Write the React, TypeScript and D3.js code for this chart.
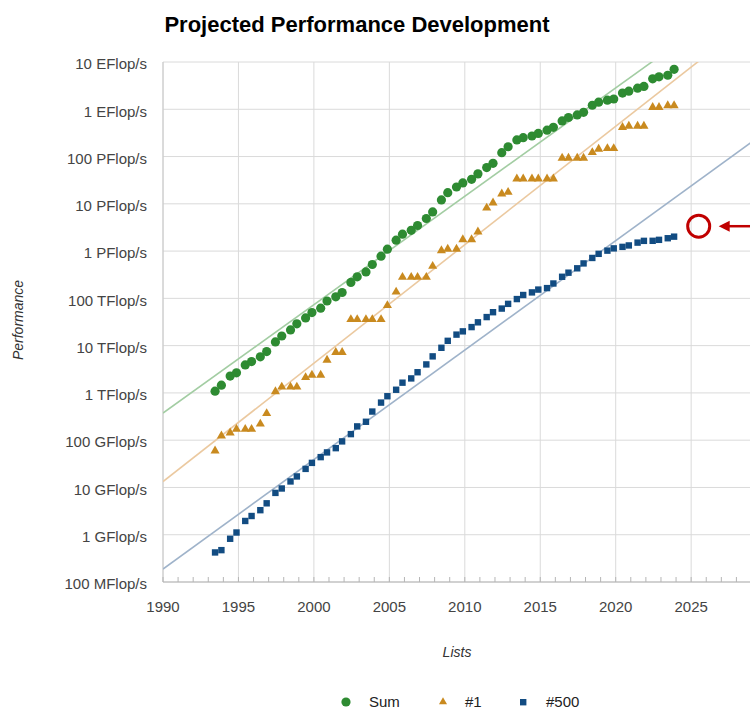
import React from 'react';
import * as d3 from 'd3';

// TOP500 lists, June and November of each year
const listLabels = [
  '06/1993', '11/1993', '06/1994', '11/1994', '06/1995', '11/1995', '06/1996', '11/1996',
  '06/1997', '11/1997', '06/1998', '11/1998', '06/1999', '11/1999', '06/2000', '11/2000',
  '06/2001', '11/2001', '06/2002', '11/2002', '06/2003', '11/2003', '06/2004', '11/2004',
  '06/2005', '11/2005', '06/2006', '11/2006', '06/2007', '11/2007', '06/2008', '11/2008',
  '06/2009', '11/2009', '06/2010', '11/2010', '06/2011', '11/2011', '06/2012', '11/2012',
  '06/2013', '11/2013', '06/2014', '11/2014', '06/2015', '11/2015', '06/2016', '11/2016',
  '06/2017', '11/2017', '06/2018', '11/2018', '06/2019', '11/2019', '06/2020', '11/2020',
  '06/2021', '11/2021', '06/2022', '11/2022', '06/2023', '11/2023',
];

// performance in GFlop/s
const sumValues = [
  1090, 1460, 2270, 2660, 3900, 4600, 5800, 7500,
  12000, 16000, 21500, 29000, 38500, 50000, 62000, 88000,
  108000, 133000, 217000, 285000, 363000, 521000, 780000, 1096000,
  1698000, 2275000, 2750000, 3475000, 4890000, 6750000, 12100000, 17200000,
  22700000, 27700000, 33000000, 43000000, 58500000, 72000000, 121000000, 161000000,
  225000000, 251000000, 272000000, 308000000, 361000000, 415000000, 567000000, 670000000,
  760000000, 860000000, 1216000000, 1415000000, 1560000000, 1650000000, 2200000000, 2420000000,
  2800000000, 3040000000, 4400000000, 4860000000, 5240000000, 7000000000,
];

const n1Values = [
  59.7, 124, 143.4, 170.4, 170.4, 170.4, 220.4, 368.2,
  1068, 1338, 1338, 1338, 2121, 2379, 2379, 4938,
  7226, 7226, 35860, 35860, 35860, 35860, 35860, 70720,
  136800, 280600, 280600, 280600, 280600, 478200, 1026000, 1105000,
  1105000, 1759000, 1759000, 2566000, 8162000, 10510000, 16320000, 17590000,
  33860000, 33860000, 33860000, 33860000, 33860000, 33860000, 93010000, 93010000,
  93010000, 93010000, 122300000, 143500000, 148600000, 148600000, 415500000, 442000000,
  442000000, 442000000, 1102000000, 1102000000, 1194000000, 1194000000,
];

const n500Values = [
  0.422, 0.472, 0.822, 1.114, 1.955, 2.489, 3.306, 4.62,
  7.67, 9.51, 13.4, 17.1, 24.7, 33.1, 43.8, 55.1,
  67.8, 94.3, 134.3, 195.8, 245.1, 403.4, 624, 850.6,
  1166, 1646, 2026, 2737, 4005, 5929, 9000, 12640,
  17100, 20050, 24670, 31120, 40190, 50940, 60820, 76500,
  96620, 117800, 133700, 153400, 164800, 206400, 286100, 349300,
  432200, 548700, 715600, 874800, 1022000, 1142000, 1228000, 1317000,
  1511000, 1646000, 1650000, 1730000, 1870000, 2020000,
];

// fitted trend lines: [year, GFlop/s] pairs
const sumTrend: [number, number][] = [[1990, 374], [2022.39, 1e10]];
const n1Trend: [number, number][] = [[1990, 13.3], [2025.43, 1e10]];
const n500Trend: [number, number][] = [[1990, 0.188], [2028.9, 1.91e8]];

// highlighted projection
const markYear = 2025.5;
const markValue = 3.36e6;

const yTickValues = [0.1, 1, 10, 100, 1e3, 1e4, 1e5, 1e6, 1e7, 1e8, 1e9, 1e10];
const yTickLabels = [
  '100 MFlop/s', '1 GFlop/s', '10 GFlop/s', '100 GFlop/s', '1 TFlop/s', '10 TFlop/s',
  '100 TFlop/s', '1 PFlop/s', '10 PFlop/s', '100 PFlop/s', '1 EFlop/s', '10 EFlop/s',
];
const xTickValues = [1990, 1995, 2000, 2005, 2010, 2015, 2020, 2025, 2030];

const colors = {
  sum: '#2e8b32',
  n1: '#c98a1f',
  n500: '#124c82',
  sumLine: '#a3cda3',
  n1Line: '#ebc9a0',
  n500Line: '#9fb3ca',
  grid: '#dadada',
  mark: '#c00000',
};

const FONT = '"Liberation Sans", Arial, Helvetica, sans-serif';

const listYear = (label: string) => {
  const [m, y] = label.split('/').map(Number);
  return y + (m === 6 ? 0.45 : 0.87);
};

export default function App() {
  const W = 750;
  const H = 711;
  const left = 163;
  const top = 62;
  const bottom = 582;

  const x = d3.scaleLinear().domain([1990, 2030]).range([left, left + 40 * 15.09]);
  const y = d3.scaleLog().domain([0.1, 1e10]).range([bottom, top]);

  const years = listLabels.map(listYear);

  // extend a two point log-linear trend over the full domain
  const trendPath = (t: [number, number][]) => {
    const [[x0, v0], [x1, v1]] = t;
    const k = (Math.log10(v1) - Math.log10(v0)) / (x1 - x0);
    const at = (yr: number): [number, number] => [yr, Math.pow(10, Math.log10(v0) + k * (yr - x0))];
    return d3.line<[number, number]>()
      .x(d => x(d[0]))
      .y(d => y(d[1]))([at(1990), at(2030)]);
  };

  const tri = d3.symbol().type(d3.symbolTriangle).size(36)();
  const triLegend = d3.symbol().type(d3.symbolTriangle).size(28)();
  const minorYears = d3.range(1990, 2030, 1);

  const mx = x(markYear);
  const my = y(markValue);

  return (
    <>
      <style>{'body{margin:0}'}</style>
      <svg width={W} height={H} style={{ display: 'block', background: '#fff' }} fontFamily={FONT}>
        <defs>
          <clipPath id="plot">
            <rect x={left} y={top} width={W - left} height={bottom - top} />
          </clipPath>
        </defs>

        <text x={357} y={32} textAnchor="middle" fontSize={22} fontWeight="bold" fill="#000">
          Projected Performance Development
        </text>

        {/* grid */}
        {yTickValues.map(v => (
          <line key={'gy' + v} x1={left} x2={W} y1={y(v)} y2={y(v)} stroke={colors.grid} strokeWidth={1} />
        ))}
        {xTickValues.map(v => (
          <line key={'gx' + v} x1={x(v)} x2={x(v)} y1={top} y2={bottom} stroke={colors.grid} strokeWidth={1} />
        ))}
        <line x1={left} x2={left} y1={top} y2={bottom} stroke="#c8c8c8" />
        <line x1={left} x2={W} y1={bottom} y2={bottom} stroke="#b5b5b5" />
        {minorYears.map(v => (
          <line key={'mt' + v} x1={x(v)} x2={x(v)} y1={bottom - 5} y2={bottom} stroke="#b5b5b5" />
        ))}

        {/* axis labels */}
        {yTickValues.map((v, i) => (
          <text key={'yl' + v} x={147} y={y(v) + 2} dy="0.35em" textAnchor="end" fontSize={15} fill="#444">
            {yTickLabels[i]}
          </text>
        ))}
        {xTickValues.slice(0, -1).map(v => (
          <text key={'xl' + v} x={x(v)} y={612} textAnchor="middle" fontSize={15} fill="#444">
            {v}
          </text>
        ))}
        <text transform="translate(23,320) rotate(-90)" textAnchor="middle" fontSize={14} fontStyle="italic" fill="#333">
          Performance
        </text>
        <text x={457} y={657} textAnchor="middle" fontSize={14} fontStyle="italic" fill="#333">
          Lists
        </text>

        {/* trend lines */}
        <g clipPath="url(#plot)" fill="none" strokeWidth={1.6}>
          <path d={trendPath(sumTrend) || ''} stroke={colors.sumLine} />
          <path d={trendPath(n1Trend) || ''} stroke={colors.n1Line} />
          <path d={trendPath(n500Trend) || ''} stroke={colors.n500Line} />
        </g>

        {/* data */}
        <g>
          {sumValues.map((v, i) => (
            <circle key={'s' + i} cx={x(years[i])} cy={y(v)} r={4.6} fill={colors.sum} />
          ))}
          {n1Values.map((v, i) => (
            <path key={'a' + i} d={tri || ''} transform={`translate(${x(years[i])},${y(v)})`} fill={colors.n1} />
          ))}
          {n500Values.map((v, i) => (
            <rect key={'b' + i} x={x(years[i]) - 3.2} y={y(v) - 3.2} width={6.4} height={6.4} fill={colors.n500} />
          ))}
        </g>

        {/* highlighted projection */}
        <circle cx={mx} cy={my} r={11} fill="none" stroke={colors.mark} strokeWidth={3} />
        <line x1={mx + 29} x2={W + 5} y1={my} y2={my} stroke={colors.mark} strokeWidth={2.5} />
        <path d={`M${mx + 20},${my} L${mx + 31},${my - 5.5} L${mx + 31},${my + 5.5} Z`} fill={colors.mark} />

        {/* legend */}
        <g fontSize={15} fill="#222">
          <circle cx={346} cy={702} r={4.6} fill={colors.sum} />
          <text x={369} y={707}>Sum</text>
          <path d={triLegend || ''} transform="translate(443,702)" fill={colors.n1} />
          <text x={465} y={707}>#1</text>
          <rect x={520} y={699} width={6.4} height={6.4} fill={colors.n500} />
          <text x={546} y={707}>#500</text>
        </g>
      </svg>
    </>
  );
}
